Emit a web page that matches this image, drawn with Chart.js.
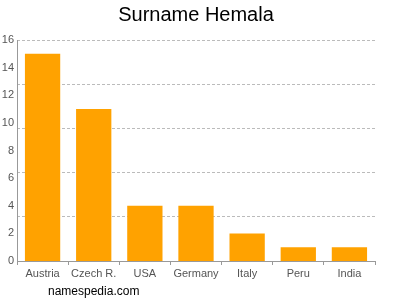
<!DOCTYPE html>
<html>
<head>
<meta charset="utf-8">
<script src="https://cdn.jsdelivr.net/npm/chart.js@4/dist/chart.umd.min.js"></script>
<style>
  html, body { margin: 0; padding: 0; background: #fff; }
  #wrap { position: relative; width: 400px; height: 300px; }
  #site { position: absolute; left: 48px; top: 284px; font: 12px "Liberation Sans", Arial, sans-serif; color: #000; }
</style>
</head>
<body>
<div id="wrap">
  <canvas id="chart" width="400" height="300"></canvas>
  <div id="site">namespedia.com</div>
</div>
<script>
const countries = ["Austria", "Czech R.", "USA", "Germany", "Italy", "Peru", "India"];
const counts = [15, 11, 4, 4, 2, 1, 1];
const yMax = 16;

const ctx = document.getElementById("chart").getContext("2d");
new Chart(ctx, {
    type: "bar",
    data: {
        labels: countries,
        datasets: [{
            data: counts,
            backgroundColor: "#ffa200",
            barPercentage: 0.69,
            categoryPercentage: 1,
        }]
    },
    options: {
        responsive: false,
        animation: false,
        layout: { padding: { top: 0, right: 8, left: 0, bottom: 0 } },
        plugins: {
            legend: { display: false },
            tooltip: { enabled: false },
            title: {
                display: true,
                text: "Surname Hemala",
                color: "#000",
                font: { family: "Liberation Sans", size: 20, weight: "normal" },
                padding: { top: 3, bottom: 13 },
            },
        },
        scales: {
            x: {
                grid: { drawOnChartArea: false, tickLength: 4, color: "#999" },
                border: { color: "#999" },
                ticks: { color: "#555", font: { family: "Liberation Sans", size: 11 }, padding: 2, maxRotation: 0 },
                afterFit: function (scale) { scale.height = 39; },
            },
            y: {
                min: 0,
                max: yMax,
                ticks: { stepSize: 2, color: "#555", font: { family: "Liberation Sans", size: 11 }, padding: 3 },
                grid: { display: false, drawTicks: false, tickLength: 0 },
                border: { color: "#999" },
                afterFit: function (scale) { scale.width = 17; },
            },
            y2: {
                position: "right",
                min: 0,
                max: yMax,
                ticks: { count: 6, display: false },
                border: { display: false, dash: [3, 2] },
                grid: { color: "#bbb", drawTicks: false },
                afterFit: function (scale) { scale.width = 17; },
            },
        },
    },
});
</script>
</body>
</html>
